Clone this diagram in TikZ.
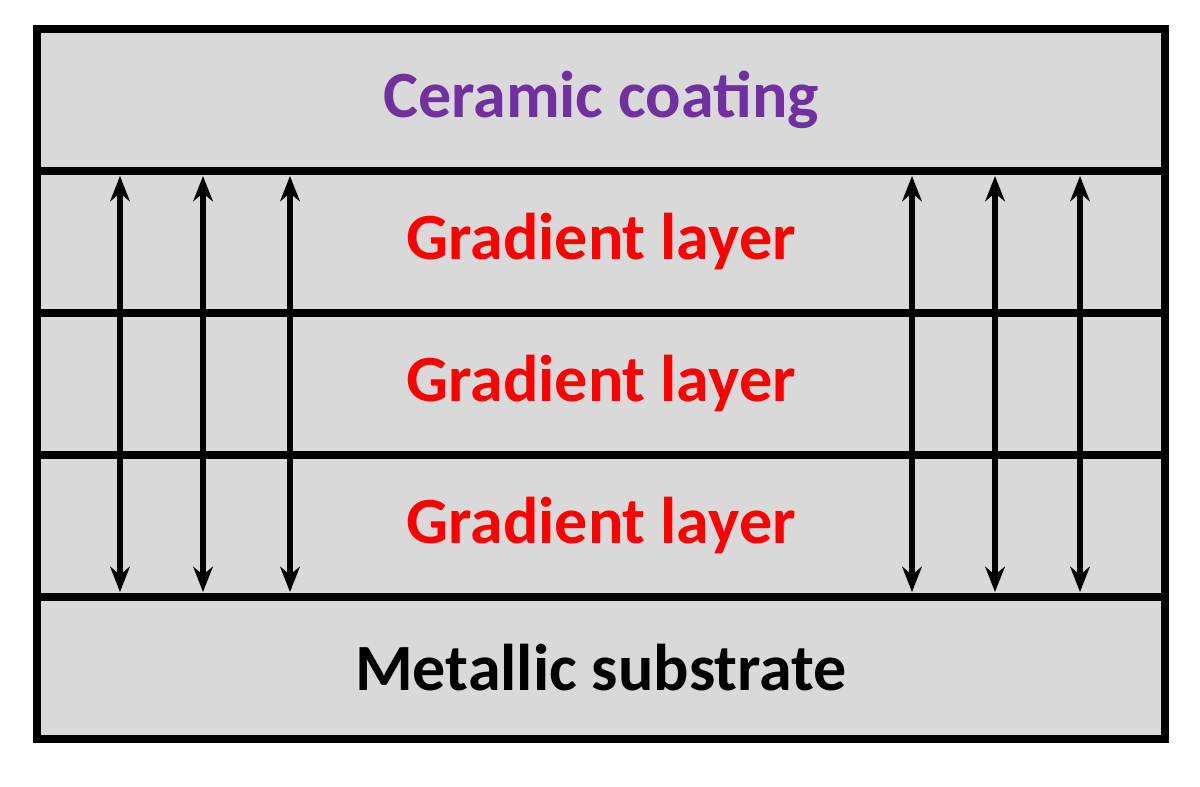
\documentclass[tikz,border=0pt]{standalone}
\usepackage{fontspec}
\setmainfont{Carlito}
\usetikzlibrary{arrows.meta}
\definecolor{fillg}{RGB}{217,217,217}
\definecolor{purp}{RGB}{112,48,160}
\begin{document}
\begin{tikzpicture}[x=0.05cm,y=-0.05cm,
  layer/.style={draw=black,line width=12pt,fill=fillg,minimum width=56.4cm,minimum height=7.1cm,inner sep=0pt,font=\fontsize{94}{100}\selectfont\bfseries},
  arr/.style={line width=8pt,{Stealth[length=36pt,width=28pt]}-{Stealth[length=36pt,width=28pt]}}]
\useasboundingbox (0,0) rectangle (1200,787);
\node[layer,text=purp] (c) at (601,100) {Ceramic coating};
\node[layer,text=red] (g1) at (601,242) {Gradient layer};
\node[layer,text=red] (g2) at (601,384) {Gradient layer};
\node[layer,text=red] (g3) at (601,526) {Gradient layer};
\node[layer,text=black] (m) at (601,668) {Metallic substrate};
\foreach \x/\n in {120/a,203/b,290/c,912/d,995/e,1080/f}{
  \coordinate (t\n) at (\x,176);
  \coordinate (b\n) at (\x,592);
  \draw[arr] (t\n) -- (b\n);
}
\end{tikzpicture}
\end{document}
